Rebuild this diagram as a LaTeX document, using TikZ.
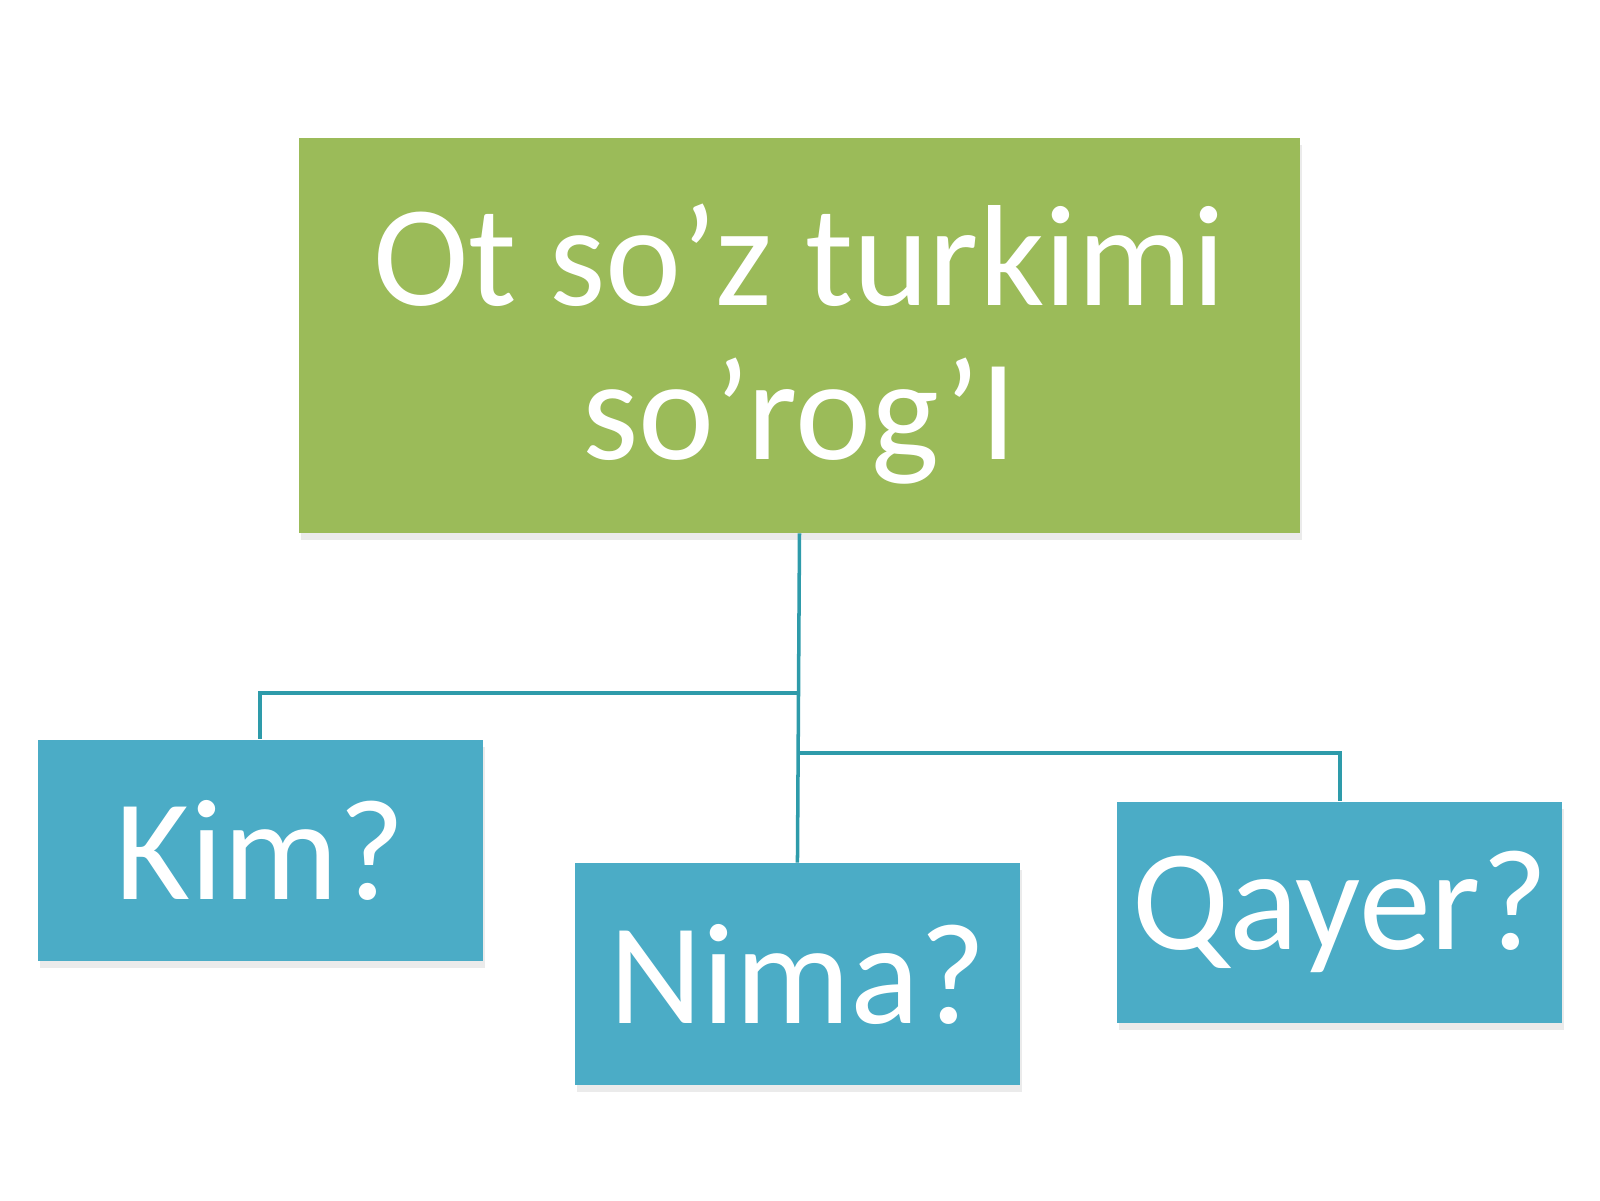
\documentclass[tikz,border=0pt]{standalone}
\usepackage{fontspec}
\setmainfont{Carlito}
\usetikzlibrary{shadows}
\definecolor{boxgreen}{HTML}{9BBB59}
\definecolor{boxblue}{HTML}{4BACC6}
\definecolor{linkteal}{HTML}{2E9BAA}
\begin{document}
\begin{tikzpicture}[x=0.010204cm,y=-0.010204cm,
    box/.style={inner sep=0pt, align=center, text=white,
      font=\fontsize{41}{44}\selectfont,
      drop shadow={shadow xshift=0.2mm, shadow yshift=-0.7mm, opacity=0.2, fill=black!40}},
    topbox/.style={box, fill=boxgreen, minimum width=10.01cm, minimum height=3.95cm},
    leafbox/.style={box, fill=boxblue, minimum width=4.45cm, minimum height=2.215cm},
    link/.style={draw=linkteal, line width=1pt}]
  \useasboundingbox (0,0) rectangle (1568,1176);
  % boxes
  \node[topbox] (top) at (783.5,328.5) {\rule{0pt}{34pt}Ot so’z turkimi\\so’rog’I};
  \node[leafbox] (kim) at (255,833.5) {Kim?};
  \node[leafbox] (nima) at (781.5,954.5) {Nima?};
  \node[leafbox] (qayer) at (1313,894) {Qayer?};
  % connectors
  \coordinate (kimbend) at (783,679);
  \coordinate (qayerbend) at (783,738);
  \draw[link] (top.south) -- (nima.north);
  \draw[link] (kimbend) -| (kim.north);
  \draw[link] (qayerbend) -| (qayer.north);
\end{tikzpicture}
\end{document}
